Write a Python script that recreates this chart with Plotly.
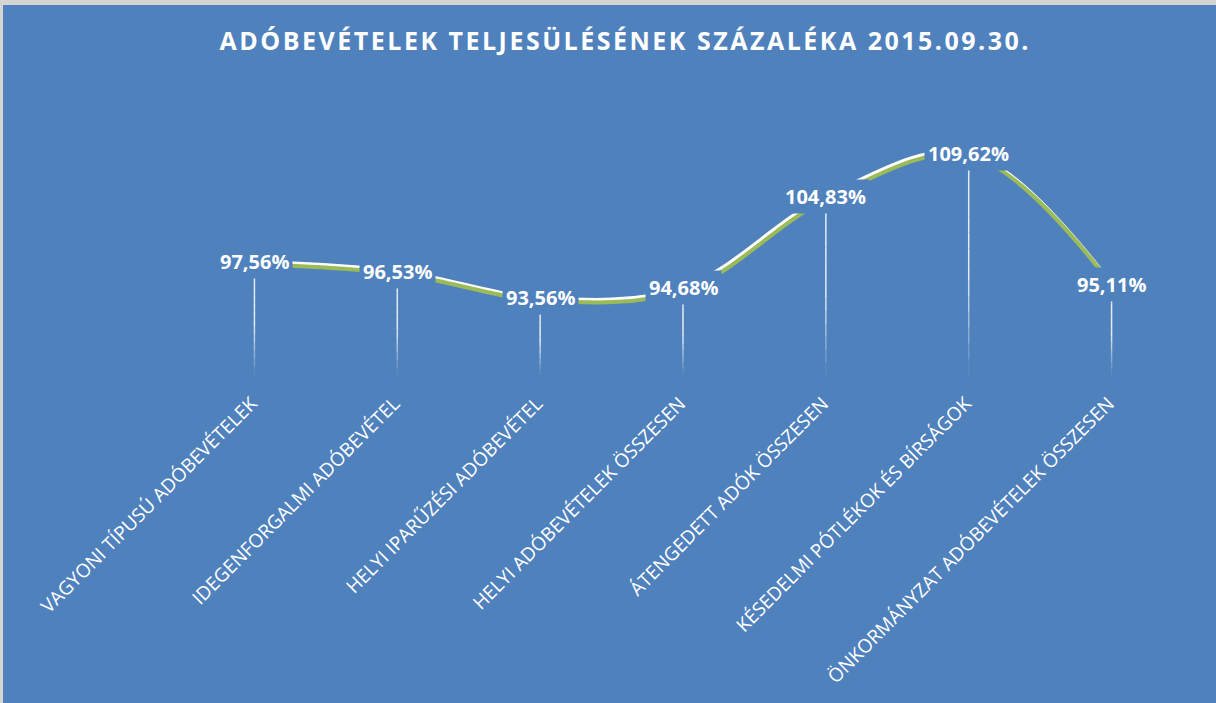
import plotly.graph_objects as go

W, H = 1216, 703
BG = "#4F81BD"

title_text = "ADÓBEVÉTELEK TELJESÜLÉSÉNEK SZÁZALÉKA 2015.09.30."
categories = [
    "VAGYONI TÍPUSÚ ADÓBEVÉTELEK",
    "IDEGENFORGALMI ADÓBEVÉTEL",
    "HELYI IPARŰZÉSI ADÓBEVÉTEL",
    "HELYI ADÓBEVÉTELEK ÖSSZESEN",
    "ÁTENGEDETT ADÓK ÖSSZESEN",
    "KÉSEDELMI PÓTLÉKOK ÉS BÍRSÁGOK",
    "ÖNKORMÁNYZAT ADÓBEVÉTELEK ÖSSZESEN",
]
values = [97.56, 96.53, 93.56, 94.68, 104.83, 109.62, 95.11]
y_range = [85, 115]

# plot area in pixels
L, R, T, B = 183, 33, 105, 328
plot_h = H - T - B
plot_w = W - L - R

labels = [f"{v:.2f}".replace(".", ",") + "%" for v in values]

fig = go.Figure()

# shadow of the smoothed line, drawn on shifted axes
sy = 2.5 * (y_range[1] - y_range[0]) / plot_h
sx = 1.5 * len(categories) / plot_w
fig.add_trace(go.Scatter(
    x=categories, y=values, mode="lines",
    line=dict(color="#9BBB59", width=4, shape="spline", smoothing=1),
    xaxis="x2", yaxis="y2", hoverinfo="skip", showlegend=False,
))
fig.add_trace(go.Scatter(
    x=categories, y=values, mode="lines",
    line=dict(color="white", width=4, shape="spline", smoothing=1),
    hoverinfo="skip", showlegend=False,
))

# drop lines with a fading gradient
shapes = []
n_seg = 14
for c, v in zip(categories, values):
    for k in range(n_seg):
        y0 = v - (v - y_range[0]) * k / n_seg
        y1 = v - (v - y_range[0]) * (k + 1) / n_seg
        frac = (k + 0.5) / n_seg
        op = 0.85 if frac < 0.55 else max(0.0, 0.85 * (1 - (frac - 0.55) / 0.45))
        shapes.append(dict(
            type="line", xref="x", yref="y", x0=c, x1=c, y0=y0, y1=y1,
            line=dict(color=f"rgba(255,255,255,{op:.2f})", width=1.5),
            layer="below",
        ))

# gray frame at top/left of the page
def px_x(p):
    return (p - L) / plot_w

def px_y(p):
    return 1 - (p - T) / plot_h

shapes.append(dict(
    type="rect", xref="paper", yref="paper",
    x0=px_x(3), x1=px_x(W + 5), y0=px_y(5), y1=px_y(H + 5),
    fillcolor=BG, line=dict(width=0), layer="below",
))

annotations = []
for c, v, t in zip(categories, values, labels):
    annotations.append(dict(
        x=c, y=v, xref="x", yref="y", text=t, showarrow=False,
        bgcolor=BG, borderpad=3,
        font=dict(family="Open Sans", size=20, color="white", weight="bold"),
    ))

spaced_title = "\u200a".join(title_text)

fig.update_layout(
    width=W, height=H,
    margin=dict(l=L, r=R, t=T, b=B, autoexpand=False),
    paper_bgcolor="#D4D4D4",
    plot_bgcolor="rgba(0,0,0,0)",
    title=dict(
        text=spaced_title, x=624 / W, xanchor="center", y=1 - 41 / H, yanchor="middle",
        font=dict(family="Open Sans", size=25, color="white", weight="bold"),
    ),
    xaxis=dict(
        type="category", categoryorder="array", categoryarray=categories,
        range=[-0.5, len(categories) - 0.5],
        showgrid=False, zeroline=False, showline=False, automargin=False,
        ticks="outside", ticklen=9, tickcolor="rgba(0,0,0,0)",
        tickangle=-45, ticklabelshift=-3,
        tickfont=dict(family="Open Sans", size=19, color="white"),
    ),
    yaxis=dict(range=y_range, visible=False, automargin=False),
    xaxis2=dict(
        type="category", categoryorder="array", categoryarray=categories,
        range=[-0.5 - sx, len(categories) - 0.5 - sx],
        overlaying="x", visible=False,
    ),
    yaxis2=dict(range=[y_range[0] + sy, y_range[1] + sy], overlaying="y", visible=False),
    shapes=shapes,
    annotations=annotations,
    showlegend=False,
)

fig.write_html(
    "out.html",
    config={"displayModeBar": False},
    post_script="document.body.style.margin='0';document.body.style.overflow='hidden';",
)
